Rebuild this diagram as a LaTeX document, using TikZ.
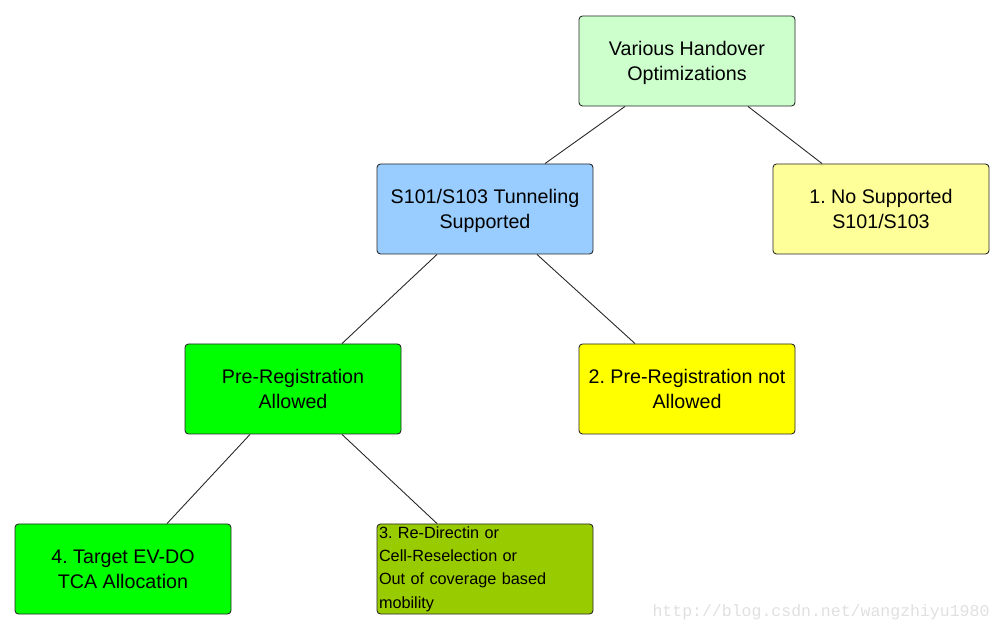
\documentclass[tikz,border=0pt]{standalone}
\usepackage{fontspec}
\setmainfont{Liberation Sans}
\newfontfamily\wmfont{Liberation Mono}
\usetikzlibrary{calc}
\definecolor{paleGreen}{HTML}{CCFFCC}
\definecolor{skyBlue}{HTML}{99CCFF}
\definecolor{paleYellow}{HTML}{FFFF99}
\definecolor{brightGreen}{HTML}{00FF00}
\definecolor{brightYellow}{HTML}{FFFF00}
\definecolor{oliveGreen}{HTML}{99CC00}
\frenchspacing
\begin{document}
\begin{tikzpicture}[x=0.02cm, y=-0.02cm, every node/.style={font=\fontsize{11.2}{14.2}\selectfont}, box/.style={draw=black!85, line width=0.5pt, rounded corners=2pt, minimum width=216*0.02cm, minimum height=90*0.02cm, inner sep=2pt, align=center, text depth=0pt}]
	\useasboundingbox (0,0) rectangle (1004,634);
	\node[box, fill=paleGreen] (v) at (687,61) {Various Handover\\ Optimizations};
	\node[box, fill=skyBlue] (s) at (485,209) {S101/S103 Tunneling\\ Supported};
	\node[box, fill=paleYellow] (n) at (881,209) {1. No Supported\\ S101/S103};
	\node[box, fill=brightGreen] (p) at (293,389) {Pre-Registration\\ Allowed};
	\node[box, fill=brightYellow] (q) at (687,389) {2. Pre-Registration not\\ Allowed};
	\node[box, fill=brightGreen] (t) at (123,569) {4. Target EV-DO\\ TCA Allocation};
	\node[draw=black!85, line width=0.5pt, rounded corners=2pt, minimum width=216*0.02cm, minimum height=90*0.02cm, fill=oliveGreen, align=left, text width=212*0.02cm, inner sep=1pt, font=\fontsize{9.25}{13.3}\selectfont] (r) at (485,569) {3. Re-Directin or\\ Cell-Reselection or\\ Out of coverage based\\ mobility};
	\node[font=\wmfont\fontsize{9.4}{11}\selectfont, text=black!12, inner sep=0pt] (wm) at (821,612) {http://blog.csdn.net/wangzhiyu1980};
	\foreach \a/\da/\b/\db in {v/-62/s/60, v/61/n/-59, s/-48/p/49, s/52/q/-52, p/-43/t/44, p/49/r/-48} {\draw[black!85, line width=0.5pt] ($(\a.south)+(\da,0)$) -- ($(\b.north)+(\db,0)$);}
\end{tikzpicture}
\end{document}
